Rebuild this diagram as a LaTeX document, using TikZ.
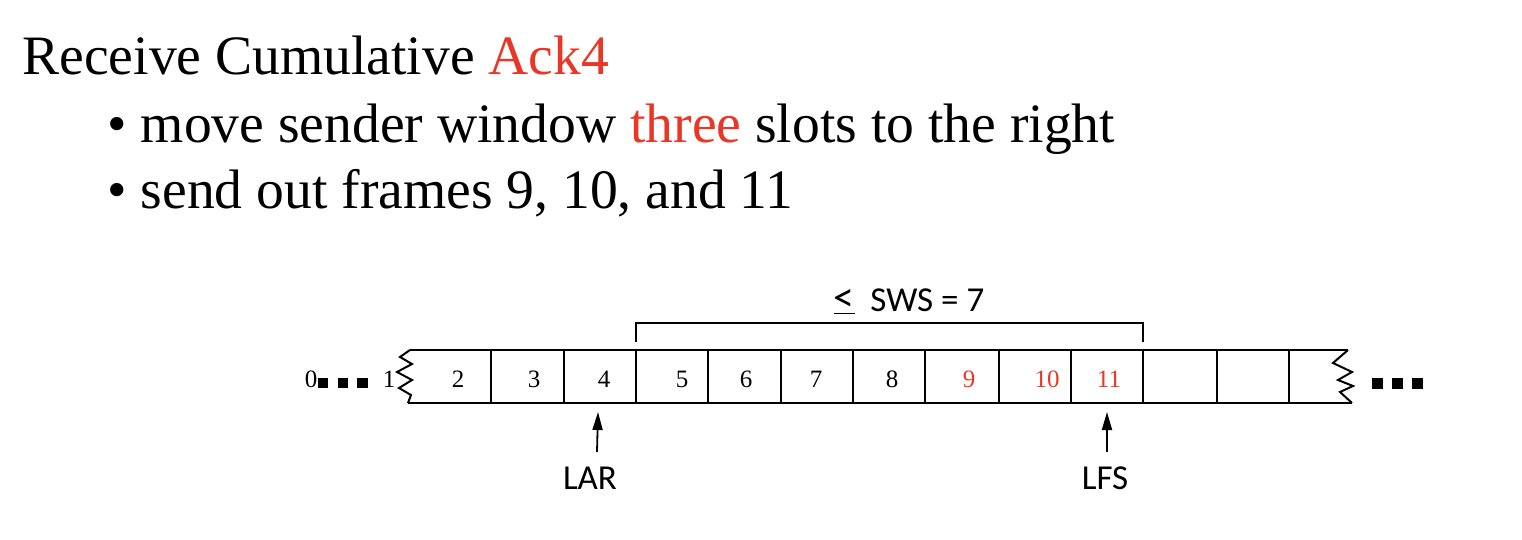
\documentclass[tikz,border=0pt]{standalone}
\usepackage{fontspec}
\setmainfont{Liberation Serif}
\newfontfamily\ptrfont{Carlito}
\usetikzlibrary{arrows.meta}
\definecolor{hl}{RGB}{232,55,38}
\begin{document}
\begin{tikzpicture}[x=0.5pt,y=-0.5pt,
  titletext/.style={font=\fontsize{27.8}{33}\selectfont, anchor=base west, inner sep=0pt},
  cellnum/.style={font=\fontsize{12.5}{15}\selectfont, anchor=base, inner sep=0pt},
  lbl/.style={font=\ptrfont\fontsize{17.5}{20}\selectfont, anchor=base, inner sep=0pt},
  boxline/.style={line width=1pt, line join=miter},
  ptr/.style={line width=0.9pt, -{Triangle[length=9pt,width=5pt]}},
  sq/.style={fill=black, draw=none}]
\useasboundingbox (0,0) rectangle (1522,540);

% heading text
\node[titletext] (title) at (22,75) {Receive Cumulative \textcolor{hl}{Ack4}};
\node[titletext] (b1) at (107,143) {• move sender window \textcolor{hl}{three} slots to the right};
\node[titletext] (b2) at (107,208) {• send out frames 9, 10, and 11};

% window strip
\draw[boxline] (410,350) -- (1348,350);
\draw[boxline] (408,403) -- (1352,403);
\draw[boxline] (410,350) -- (400,357) -- (412,364) -- (397,372) -- (412,380) -- (399,388) -- (411,395) -- (408,403);
\draw[boxline] (1348,350) -- (1333,363) -- (1352,372) -- (1338,380) -- (1353,386) -- (1340,392) -- (1352,403);
\foreach \x in {491,564,636,708,781,853,925,999,1071,1143,1217,1289}
  \draw[boxline] (\x,350) -- (\x,403);

% cell numbers
\node[cellnum] (n2) at (458,387) {2};
\node[cellnum] (n3) at (534,387) {3};
\node[cellnum] (n4) at (604,387) {4};
\node[cellnum] (n5) at (682,387) {5};
\node[cellnum] (n6) at (746,387) {6};
\node[cellnum] (n7) at (816,387) {7};
\node[cellnum] (n8) at (892,387) {8};
\node[cellnum, text=hl] (n9) at (969,387) {9};
\node[cellnum, text=hl] (n10) at (1047,387) {10};
\node[cellnum, text=hl] (n11) at (1109,387) {11};

% left ellipsis
\node[cellnum] (n0) at (311,387) {0};
\node[cellnum] (n1) at (389,387) {1};
\fill[sq] (318,378) rectangle (328,388);
\fill[sq] (338,378) rectangle (348,388);
\fill[sq] (357,378) rectangle (368,388);
% right ellipsis
\fill[sq] (1372,378) rectangle (1383,389);
\fill[sq] (1392,378) rectangle (1403,389);
\fill[sq] (1412,378) rectangle (1423,389);

% window bracket
\draw[line width=0.8pt] (636,342) -- (636,323) -- (1143,323) -- (1143,342);
\node[lbl] (sws) at (909,311) {\underline{\fontsize{21}{21}\selectfont<}\ \ SWS = 7};

% pointers
\node[lbl] (lar) at (590,489) {LAR};
\node[lbl] (lfs) at (1105,489) {LFS};
\coordinate (lartail) at (597,452);
\coordinate (lartip) at (598,412);
\coordinate (lfstail) at (1107,452);
\coordinate (lfstip) at (1107,412);
\draw[ptr] (lartail) -- (lartip);
\draw[ptr] (lfstail) -- (lfstip);
\end{tikzpicture}
\end{document}
